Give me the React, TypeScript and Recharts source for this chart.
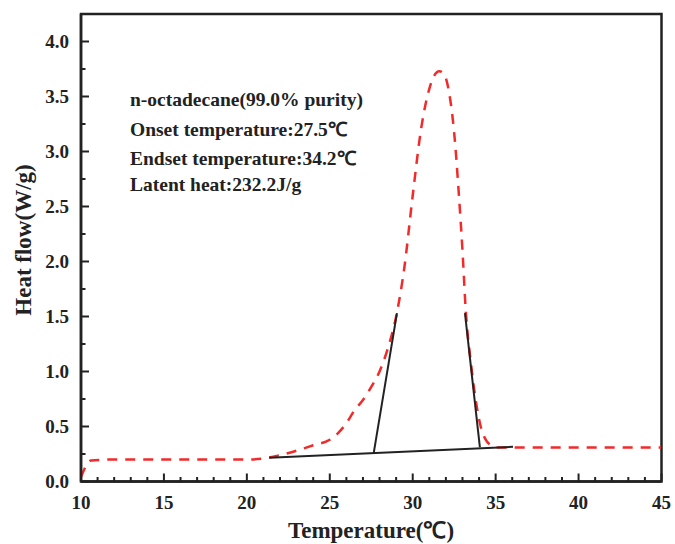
import { LineChart, Line, XAxis, YAxis, ReferenceArea } from "recharts";

// DSC curve of n-octadecane
const temperature = [
  10.0, 10.6, 12, 14, 16, 18, 20, 21, 22, 23, 24, 25, 25.5, 26, 26.5, 27, 27.5,
  28, 28.5, 29, 29.5, 30, 30.5, 31, 31.3, 31.6, 31.9, 32.2, 32.5, 32.8, 33.0,
  33.2, 33.5, 33.8, 34.1, 34.4, 34.7, 35.0, 36, 38, 40, 42, 45
];
const heatFlow = [
  0.04, 0.19, 0.2, 0.2, 0.2, 0.2, 0.2, 0.21, 0.24, 0.28, 0.33, 0.38, 0.44, 0.53,
  0.65, 0.74, 0.86, 1.0, 1.21, 1.5, 1.95, 2.6, 3.2, 3.57, 3.69, 3.73, 3.7, 3.53,
  3.17, 2.57, 2.1, 1.55, 1.09, 0.74, 0.5, 0.38, 0.33, 0.31, 0.31, 0.31, 0.31,
  0.31, 0.31
];

// tangent construction lines
const baselineT = [21.35, 36.05];
const baselineQ = [0.215, 0.315];
const onsetT = [27.65, 29.05];
const onsetQ = [0.26, 1.53];
const endsetT = [34.05, 33.15];
const endsetQ = [0.31, 1.53];

const xTicks = [
  10, 11, 12, 13, 14, 15, 16, 17, 18, 19, 20, 21, 22, 23, 24, 25, 26, 27, 28,
  29, 30, 31, 32, 33, 34, 35, 36, 37, 38, 39, 40, 41, 42, 43, 44, 45
];
const yTicks = [
  0, 0.25, 0.5, 0.75, 1, 1.25, 1.5, 1.75, 2, 2.25, 2.5, 2.75, 3, 3.25, 3.5,
  3.75, 4
];

const notes = [
  "n-octadecane(99.0% purity)",
  "Onset temperature:27.5℃",
  "Endset temperature:34.2℃",
  "Latent heat:232.2J/g"
];

const ink = "#222";
const font = "'Liberation Serif', 'Times New Roman', serif";

const toPoints = (xs: number[], ys: number[]) =>
  xs.map((x, i) => ({ x, y: ys[i] }));

const curve = toPoints(temperature, heatFlow);
const baseline = toPoints(baselineT, baselineQ);
const onset = toPoints(onsetT, onsetQ);
const endset = toPoints(endsetT, endsetQ);

function XTick(props: any) {
  const { x, y, payload } = props;
  const major = payload.value % 5 === 0;
  return (
    <g>
      <line x1={x} x2={x} y1={y} y2={y - (major ? 8 : 4.5)} stroke={ink} strokeWidth={2} />
      {major && (
        <text x={x} y={y + 27} textAnchor="middle" fill={ink} fontFamily={font} fontWeight="bold" fontSize={19}>
          {payload.value}
        </text>
      )}
    </g>
  );
}

function YTick(props: any) {
  const { x, y, payload } = props;
  const major = Math.abs((payload.value * 2) % 1) < 1e-6;
  return (
    <g>
      <line x1={x} x2={x + (major ? 8 : 4.5)} y1={y} y2={y} stroke={ink} strokeWidth={2} />
      {major && (
        <text x={x - 12} y={y} dy="0.36em" textAnchor="end" fill={ink} fontFamily={font} fontWeight="bold" fontSize={19}>
          {payload.value.toFixed(1)}
        </text>
      )}
    </g>
  );
}

export default function App() {
  return (
    <div style={{ position: "absolute", left: 0, top: 0, width: 675, height: 544, background: "#fff" }}>
      <LineChart width={675} height={544} margin={{ top: 14, right: 13.5, left: 11, bottom: 22.5 }}>
        <XAxis
          dataKey="x"
          type="number"
          domain={[10, 45]}
          ticks={xTicks}
          interval={0}
          allowDataOverflow
          height={40}
          tickSize={0}
          tickMargin={0}
          tickLine={false}
          axisLine={{ stroke: ink, strokeWidth: 2.5 }}
          tick={<XTick />}
        />
        <YAxis
          type="number"
          domain={[0, 4.25]}
          ticks={yTicks}
          interval={0}
          allowDataOverflow
          width={70}
          tickSize={0}
          tickMargin={0}
          tickLine={false}
          axisLine={{ stroke: ink, strokeWidth: 2.5 }}
          tick={<YTick />}
        />
        <ReferenceArea x1={10} x2={45} y1={0} y2={4.25} fill="none" stroke={ink} strokeWidth={2.5} />
        <Line
          data={curve}
          dataKey="y"
          type="monotone"
          stroke="#f22a2a"
          strokeWidth={2.5}
          strokeDasharray="10 8"
          dot={false}
          isAnimationActive={false}
        />
        <Line data={baseline} dataKey="y" type="linear" stroke={ink} strokeWidth={2} dot={false} isAnimationActive={false} />
        <Line data={onset} dataKey="y" type="linear" stroke={ink} strokeWidth={2} dot={false} isAnimationActive={false} />
        <Line data={endset} dataKey="y" type="linear" stroke={ink} strokeWidth={2} dot={false} isAnimationActive={false} />
      </LineChart>

      {notes.map((t, i) => (
        <div
          key={t}
          style={{
            position: "absolute",
            left: 130,
            top: 100 + i * 28.3,
            transform: "translateY(-50%)",
            fontFamily: font,
            fontWeight: "bold",
            fontSize: 19.5,
            color: ink,
            whiteSpace: "nowrap"
          }}
        >
          {t}
        </div>
      ))}

      <div
        style={{
          position: "absolute",
          left: 371,
          top: 529,
          transform: "translate(-50%, -50%)",
          fontFamily: font,
          fontWeight: "bold",
          fontSize: 23,
          color: ink,
          whiteSpace: "nowrap"
        }}
      >
        Temperature(℃)
      </div>

      <div
        style={{
          position: "absolute",
          left: 24,
          top: 240,
          transform: "translate(-50%, -50%) rotate(-90deg)",
          fontFamily: font,
          fontWeight: "bold",
          fontSize: 23,
          color: ink,
          whiteSpace: "nowrap"
        }}
      >
        Heat flow(W/g)
      </div>
    </div>
  );
}
